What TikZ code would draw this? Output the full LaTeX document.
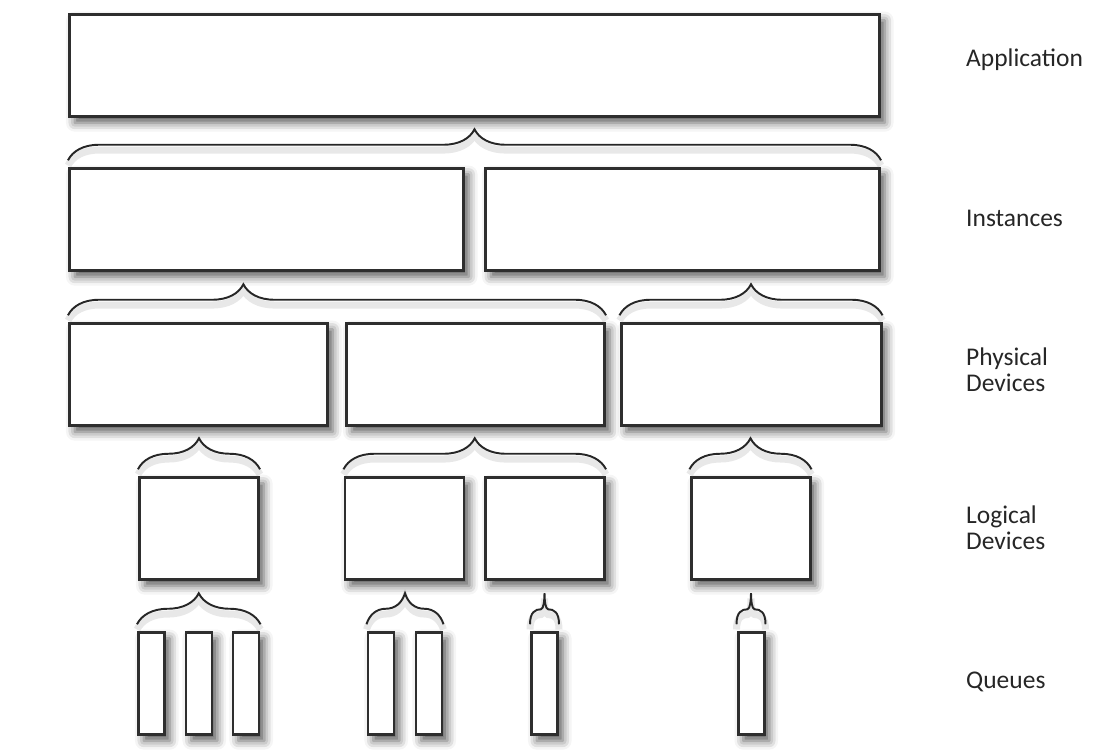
\documentclass[tikz,border=0pt]{standalone}
\usepackage{fontspec}
\setmainfont{Carlito}
\usetikzlibrary{decorations.pathreplacing,shadows.blur}

\begin{document}
\begin{tikzpicture}[
  layerbox/.style={draw=black!82, line width=1.7pt, fill=white, inner sep=0pt,
    minimum height=2.05cm,
    blur shadow={shadow xshift=3pt, shadow yshift=-3.5pt, shadow blur radius=5pt, shadow opacity=65}},
  bracestroke/.style={line width=1.1pt, draw=black!85,
    preaction={draw=black!30, line width=4pt, opacity=0.3, transform canvas={yshift=-3pt}}},
  grpbrace/.style={bracestroke, decorate, decoration={brace, amplitude=0.62cm}},
  layername/.style={anchor=west, align=left, text=black!85, font=\fontsize{14.5}{15}\selectfont}]
\useasboundingbox (0,0) rectangle (21.88,15);

\node[layerbox, minimum width=16.2cm] (app) at (9.49,13.69) {};

\node[layerbox, minimum width=7.88cm] (inst1) at (5.33,10.61) {};
\node[layerbox, minimum width=7.88cm] (inst2) at (13.65,10.61) {};

\node[layerbox, minimum width=5.16cm] (phys1) at (3.97,7.51) {};
\node[layerbox, minimum width=5.16cm] (phys2) at (9.51,7.51) {};
\node[layerbox, minimum width=5.2cm] (phys3) at (15.02,7.51) {};

\node[layerbox, minimum width=2.38cm] (log1) at (3.98,4.43) {};
\node[layerbox, minimum width=2.38cm] (log2) at (8.09,4.43) {};
\node[layerbox, minimum width=2.38cm] (log3) at (10.9,4.43) {};
\node[layerbox, minimum width=2.38cm] (log4) at (15.01,4.43) {};

\node[layerbox, minimum width=0.52cm] (q1) at (3.03,1.33) {};
\node[layerbox, minimum width=0.52cm] (q2) at (3.98,1.33) {};
\node[layerbox, minimum width=0.52cm] (q3) at (4.92,1.33) {};
\node[layerbox, minimum width=0.52cm] (q4) at (7.62,1.33) {};
\node[layerbox, minimum width=0.52cm] (q5) at (8.58,1.33) {};
\node[layerbox, minimum width=0.52cm] (q6) at (10.89,1.33) {};
\node[layerbox, minimum width=0.52cm] (q7) at (15.02,1.33) {};

\draw[grpbrace] ([yshift=0.13cm]inst1.north west) -- ([yshift=0.13cm]inst2.north east);
\draw[grpbrace, decoration={aspect=0.326}] ([yshift=0.13cm]phys1.north west) -- ([yshift=0.13cm]phys2.north east);
\draw[grpbrace] ([yshift=0.13cm]phys3.north west) -- ([yshift=0.13cm]phys3.north east);
\draw[grpbrace] ([yshift=0.13cm]log1.north west) -- ([yshift=0.13cm]log1.north east);
\draw[grpbrace] ([yshift=0.13cm]log2.north west) -- ([yshift=0.13cm]log3.north east);
\draw[grpbrace] ([yshift=0.13cm]log4.north west) -- ([yshift=0.13cm]log4.north east);
\draw[grpbrace] ([yshift=0.13cm]q1.north west) -- ([yshift=0.13cm]q3.north east);
\draw[grpbrace] ([yshift=0.13cm]q4.north west) -- ([yshift=0.13cm]q5.north east);
\draw[bracestroke] ([yshift=0.13cm]q6.north west) .. controls +(0,0.24) and +(-0.12,0) .. ([shift={(-0.07,0.43)}]q6.north)
  .. controls +(0.05,0) and +(0,-0.14) .. ([yshift=0.75cm]q6.north)
  .. controls +(0,-0.14) and +(-0.05,0) .. ([shift={(0.07,0.43)}]q6.north)
  .. controls +(0.12,0) and +(0,0.24) .. ([yshift=0.13cm]q6.north east);
\draw[bracestroke] ([yshift=0.13cm]q7.north west) .. controls +(0,0.24) and +(-0.12,0) .. ([shift={(-0.07,0.43)}]q7.north)
  .. controls +(0.05,0) and +(0,-0.14) .. ([yshift=0.75cm]q7.north)
  .. controls +(0,-0.14) and +(-0.05,0) .. ([shift={(0.07,0.43)}]q7.north)
  .. controls +(0.12,0) and +(0,0.24) .. ([yshift=0.13cm]q7.north east);

\node[layername] (lapp) at (19.2,13.8) {Application};
\node[layername] (linst) at (19.2,10.64) {Instances};
\node[layername] (lphys) at (19.2,7.6) {Physical\\Devices};
\node[layername] (llog) at (19.2,4.44) {Logical\\Devices};
\node[layername] (lq) at (19.2,1.36) {Queues};
\end{tikzpicture}
\end{document}
